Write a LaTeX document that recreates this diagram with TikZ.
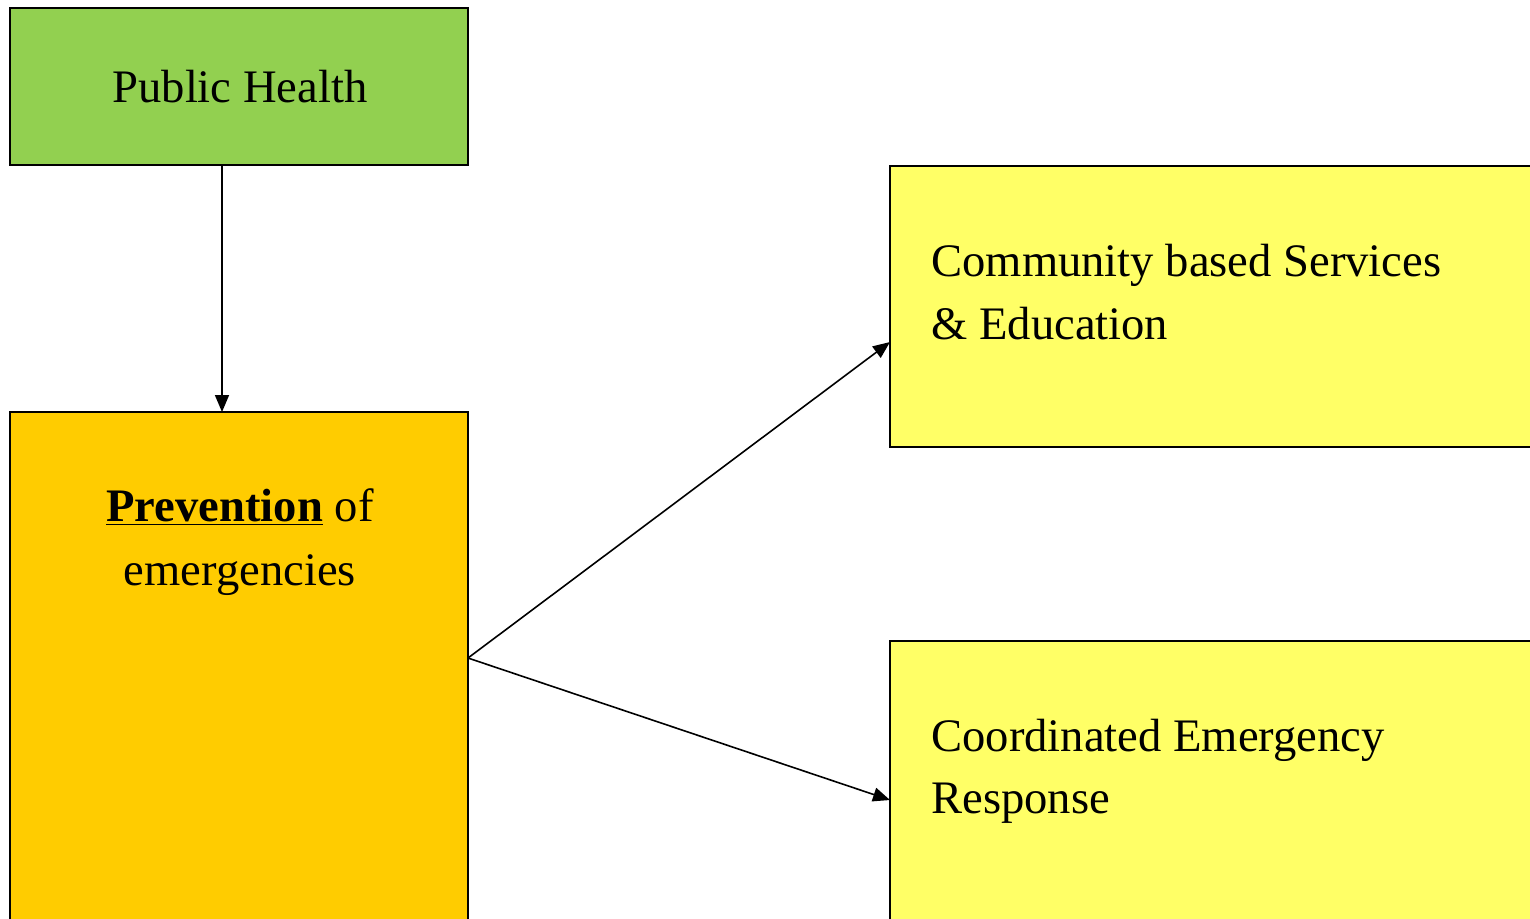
\documentclass[tikz,border=0pt]{standalone}
\usepackage{fontspec}
\setmainfont{Liberation Serif}
\usetikzlibrary{arrows.meta}
\definecolor{phgreen}{HTML}{92D050}
\definecolor{pvorange}{HTML}{FFCC00}
\definecolor{boxyellow}{HTML}{FFFF66}
\begin{document}
\begin{tikzpicture}[x=0.5pt,y=-0.5pt,
  box/.style={draw=black, line width=1pt, inner sep=0pt, outer sep=0pt},
  lbl/.style={inner sep=0pt, anchor=base, font=\fontsize{23.3}{32}\selectfont},
  lbll/.style={lbl, anchor=base west},
  arr/.style={line width=0.8pt, -{Triangle[length=8.5pt,width=7pt]}}]
\useasboundingbox (0,0) rectangle (1530,918);
\clip (0,0) rectangle (1530,918);
\node[box, fill=phgreen, minimum width=229pt, minimum height=78.5pt] (ph) at (239,86.5) {};
\node[box, fill=pvorange, minimum width=229pt, minimum height=274pt] (pv) at (239,686) {};
\node[box, fill=boxyellow, minimum width=335pt, minimum height=140.5pt] (cb) at (1225,306.5) {};
\node[box, fill=boxyellow, minimum width=335pt, minimum height=159.5pt] (cr) at (1225,800.5) {};
\node[lbl] (t1) at (240,102) {Public Health};
\node[lbl] (t2) at (240,521) {\underline{\textbf{Prevention}} of};
\node[lbl] (t3) at (240,585) {emergencies};
\node[lbll] (t4) at (931,276) {Community based Services};
\node[lbll] (t5) at (931,339) {\& Education};
\node[lbll] (t6) at (931,751) {Coordinated Emergency};
\node[lbll] (t7) at (931,813) {Response};
\coordinate (ax) at (222,0);
\coordinate (s) at (0,658);
\coordinate (e1) at (0,342);
\coordinate (e2) at (0,800);
\draw[arr] (ph.south -| ax) -- (pv.north -| ax);
\draw[arr] (pv.east |- s) -- (cb.west |- e1);
\draw[arr] (pv.east |- s) -- (cr.west |- e2);
\end{tikzpicture}
\end{document}
